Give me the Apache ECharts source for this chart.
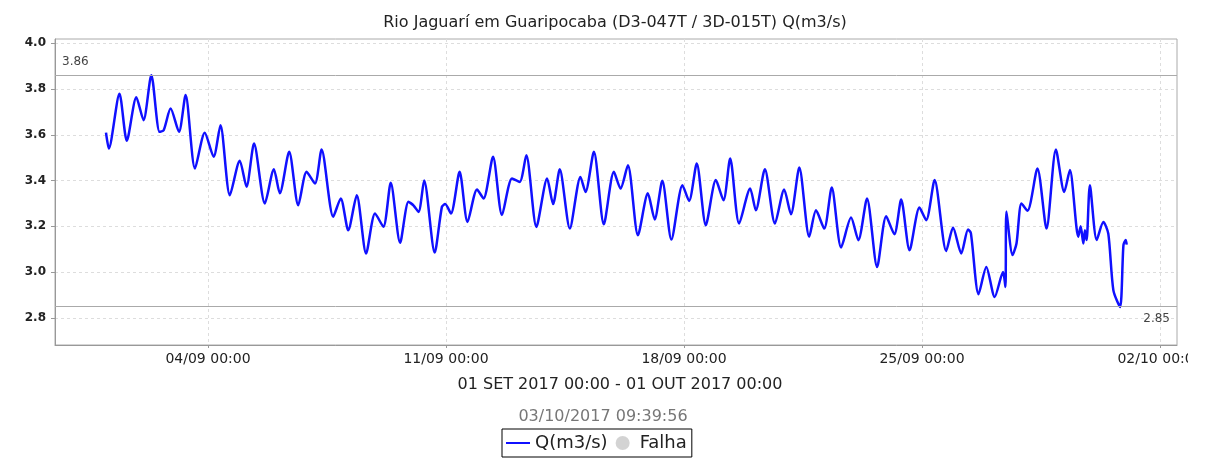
<!DOCTYPE html>
<html>
<head>
<meta charset="utf-8">
<script src="https://cdn.jsdelivr.net/npm/echarts@6/dist/echarts.min.js"></script>
<style>
  html, body { margin: 0; padding: 0; background: #fff; }
  #chart-container { width: 1188px; height: 461px; }
</style>
</head>
<body>
<div id="chart-container"></div>
<script>
// horas desde 01/09/2017 00:00
var horas = [
  0, 2.0, 9.5, 14.7, 21.4, 26.5, 32.0, 37.8, 40.7, 45.6, 51.5, 56.2, 62.8, 69.7, 76.0, 80.8,
  87.4, 94.4, 99.2, 104.5, 112.1, 118.5, 122.7, 129.3, 135.7, 141.6, 147.5, 152.2, 160.4, 165.7,
  171.0, 177.0, 183.6, 189.9, 195.8, 201.0, 207.6, 213.5, 217.0, 220.6, 224.6, 232.0, 237.1,
  239.4, 243.5, 249.6, 255.2, 261.9, 266.5, 273.2, 279.5, 286.6, 292.0, 296.7, 303.8, 311.4,
  315.6, 320.3, 327.4, 334.9, 338.5, 344.4, 351.4, 358.5, 363.2, 368.4, 375.5, 382.5, 387.3,
  392.7, 399.1, 406.9, 411.6, 417.0, 423.4, 430.5, 435.9, 440.6, 446.9, 454.7, 458.7, 465.1,
  472.2, 478.7, 483.5, 489.4, 496.4, 501.2, 507.0, 512.3, 518.9, 525.9, 531.1, 537.2, 544.3,
  550.7, 556.5, 561.3, 567.2, 574.2, 579.0, 584.9, 593.1, 597.9, 603.7, 608.5, 610.5, 615.9,
  621.4, 627.3, 633.2, 634.9, 635.6, 639.9, 642.7, 646.2, 650.5, 657.5, 663.9, 670.5, 676.4,
  680.4, 686.3, 688.0, 689.9, 691.0, 692.2, 694.5, 699.3, 704.0, 707.5, 711.1, 715.8, 718.2,
  719.8, 720.5
];
var vazao = [
  3.61, 3.54, 3.78, 3.574, 3.764, 3.664, 3.861, 3.613, 3.62, 3.715, 3.613, 3.774, 3.453, 3.609, 3.504, 3.642,
  3.336, 3.487, 3.373, 3.562, 3.30, 3.449, 3.344, 3.526, 3.292, 3.438, 3.387, 3.536, 3.242, 3.322,
  3.183, 3.336, 3.081, 3.256, 3.198, 3.39, 3.128, 3.307, 3.292, 3.263, 3.40, 3.085, 3.285,
  3.297, 3.256, 3.438, 3.219, 3.361, 3.322, 3.504, 3.249, 3.409, 3.394, 3.511, 3.197, 3.409,
  3.297, 3.449, 3.19, 3.416, 3.35, 3.526, 3.209, 3.438, 3.365, 3.467, 3.161, 3.344, 3.23,
  3.399, 3.142, 3.38, 3.311, 3.475, 3.205, 3.402, 3.314, 3.497, 3.212, 3.365, 3.27, 3.449,
  3.212, 3.361, 3.253, 3.457, 3.154, 3.27, 3.19, 3.37, 3.107, 3.238, 3.139, 3.322, 3.022,
  3.244, 3.165, 3.317, 3.095, 3.282, 3.227, 3.402, 3.092, 3.195, 3.081, 3.186, 3.17, 2.903,
  3.022, 2.891, 3.0, 2.935, 3.265, 3.074, 3.125, 3.30, 3.268, 3.453, 3.19, 3.536, 3.35,
  3.446, 3.154, 3.2, 3.125, 3.183, 3.14, 3.38, 3.14, 3.219, 3.168, 2.92, 2.847, 3.118,
  3.14, 3.12
];
var ticksX = [72, 240, 408, 576, 744];
var rotulosX = ['04/09 00:00', '11/09 00:00', '18/09 00:00', '25/09 00:00', '02/10 00:00'];
var ticksY = [2.8, 3.0, 3.2, 3.4, 3.6, 3.8, 4.0];
var maximo = 3.86;
var minimo = 2.85;

var dom = document.getElementById('chart-container');
var myChart = echarts.init(dom, null, { renderer: 'canvas' });

var serie = horas.map(function (h, i) { return [h, vazao[i]]; });

// icone de linha para a legenda (pontos invisiveis mantem a altura da caixa)
var iconeLinha = 'path://M0,0L0.01,0L0,0.01Z M0,14L0.01,14L0,13.99Z M0,6L24,6L24,8L0,8Z';

var option = {
  animation: false,
  textStyle: { fontFamily: 'DejaVu Sans' },
  title: [
    {
      text: 'Rio Jaguarí em Guaripocaba (D3-047T / 3D-015T) Q(m3/s)',
      left: 610, top: 10, textAlign: 'center',
      textStyle: { fontSize: 16, fontWeight: 'normal', color: '#222' }
    },
    {
      text: '01 SET 2017 00:00 - 01 OUT 2017 00:00',
      left: 615, top: 372, textAlign: 'center',
      textStyle: { fontSize: 16, fontWeight: 'normal', color: '#222' }
    },
    {
      text: '03/10/2017 09:39:56',
      left: 598, top: 404, textAlign: 'center',
      textStyle: { fontSize: 16, fontWeight: 'normal', color: '#777' }
    }
  ],
  legend: {
    left: 502, top: 429,
    borderColor: '#000', borderWidth: 1,
    padding: [5, 5, 5, 4],
    itemGap: 8, itemWidth: 24, itemHeight: 14,
    textStyle: { fontSize: 18, color: '#222' },
    data: [
      { name: 'Q(m3/s)', icon: iconeLinha },
      { name: 'Falha', icon: 'circle', itemStyle: { color: '#c8c8c8' } }
    ]
  },
  grid: {
    left: 55, right: 11, top: 39, bottom: 116,
    outerBoundsMode: 'none',
    containLabel: false,
    show: true, borderColor: '#aaa', borderWidth: 1
  },
  xAxis: {
    type: 'value',
    min: -36, max: 756,
    axisLine: { onZero: false, lineStyle: { color: '#999' } },
    axisTick: { show: true, customValues: ticksX, length: 3, lineStyle: { color: '#999' } },
    axisLabel: {
      customValues: ticksX, fontSize: 14, color: '#222', margin: 7,
      formatter: function (v) { return rotulosX[ticksX.indexOf(v)] || ''; }
    },
    splitLine: { show: true, lineStyle: { color: '#ddd', type: [3, 3] } }
  },
  yAxis: {
    type: 'value',
    min: 2.681, max: 4.019,
    axisLine: { show: true, onZero: false, lineStyle: { color: '#999' } },
    axisTick: { show: true, customValues: ticksY, length: 4, lineStyle: { color: '#999' } },
    axisLabel: {
      fontSize: 12, fontWeight: 'bold', color: '#222', margin: 9,
      customValues: ticksY,
      formatter: function (v) { return v.toFixed(1); }
    },
    splitLine: { show: true, lineStyle: { color: '#ddd', type: [3, 3] } }
  },
  series: [
    {
      name: 'Q(m3/s)',
      type: 'line',
      data: serie,
      symbol: 'none',
      smooth: 0.25,
      color: '#1010ff',
      lineStyle: { width: 2.5, color: '#1010ff' },
      markLine: {
        silent: true,
        symbol: 'none',
        lineStyle: { color: '#aaa', type: 'solid', width: 1 },
        data: [
          { yAxis: maximo, label: { position: 'insideStartTop', formatter: '3.86', color: '#444', fontSize: 12, distance: 7 } },
          { yAxis: minimo, label: { position: 'insideEndBottom', formatter: '2.85', color: '#444', fontSize: 12, distance: 7 } }
        ]
      }
    },
    {
      name: 'Falha',
      type: 'scatter',
      data: [],
      color: '#c8c8c8'
    }
  ]
};

myChart.setOption(option);

window.addEventListener('resize', () => {
  myChart.resize();
});
</script>
</body>
</html>
